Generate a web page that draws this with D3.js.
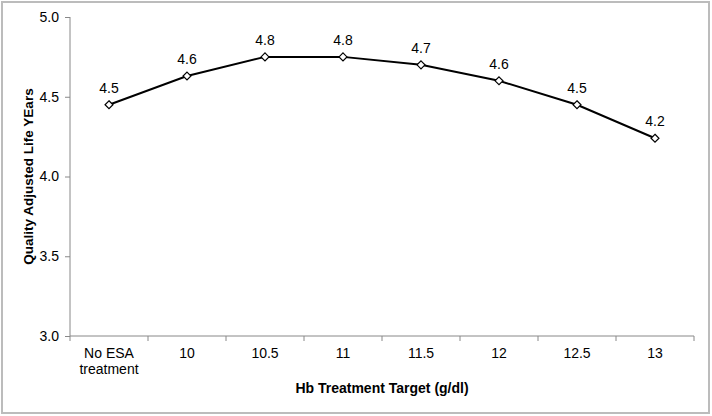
<!DOCTYPE html>
<html><head><meta charset="utf-8">
<script src="https://cdn.jsdelivr.net/npm/d3@7"></script>
<style>body{margin:0;background:#fff;} svg{display:block;font-family:"Liberation Sans",Arial,sans-serif;}</style>
</head><body>
<svg id="chart" width="712" height="416"></svg>
<script>
const categories = ["No ESA treatment","10","10.5","11","11.5","12","12.5","13"];
const qalys = [4.45, 4.63, 4.75, 4.75, 4.70, 4.60, 4.45, 4.24];
const valueLabels = ["4.5","4.6","4.8","4.8","4.7","4.6","4.5","4.2"];
const yTicks = [3.0, 3.5, 4.0, 4.5, 5.0];

const svg = d3.select("#chart");
const pL = 70, pR = 694, pT = 17, pB = 336;
const FS = 14;

svg.append("rect").attr("x",2).attr("y",2).attr("width",707).attr("height",411)
  .attr("fill","#fff").attr("stroke","#bcbcbc").attr("stroke-width",2);

const x = d3.scaleBand().domain(categories).range([pL,pR]);
const y = d3.scaleLinear().domain([3,5]).range([pB,pT]);

// y axis
const yAx = svg.append("g").attr("transform",`translate(${pL},0)`)
  .call(d3.axisLeft(y).tickValues(yTicks).tickFormat(d3.format(".1f")).tickSize(5).tickPadding(6));
yAx.select(".domain").attr("stroke","#888").attr("d",`M0,${pT}V${pB}`);
yAx.selectAll(".tick line").attr("stroke","#888");
yAx.selectAll(".tick text").attr("font-size",FS).attr("fill","#000").attr("font-family","Liberation Sans, Arial, sans-serif");

// x axis
const xAx = svg.append("g").attr("transform",`translate(0,${pB})`)
  .call(d3.axisBottom(x).tickSize(0).tickFormat(""));
xAx.select(".domain").attr("stroke","#888").attr("d",`M${pL},0H${pR}`);
const bounds = categories.map(c=>x(c)).concat([pR]);
xAx.selectAll(".bt").data(bounds).enter().append("line").attr("class","bt")
  .attr("x1",d=>d).attr("x2",d=>d).attr("y1",0).attr("y2",5).attr("stroke","#888");
categories.forEach(c=>{
  const words = c === "No ESA treatment" ? ["No ESA","treatment"] : [c];
  const t = svg.append("text").attr("x",x(c)+x.bandwidth()/2).attr("y",358)
    .attr("text-anchor","middle").attr("font-size",FS).attr("fill","#000");
  words.forEach((w,i)=>t.append("tspan").attr("x",x(c)+x.bandwidth()/2).attr("dy",i?15.5:0).text(w));
});

// titles
svg.append("text").attr("x",(pL+pR)/2).attr("y",393).attr("text-anchor","middle")
  .attr("font-size",FS).attr("font-weight","bold").text("Hb Treatment Target (g/dl)");
svg.append("text").attr("transform",`translate(33,${(pT+pB)/2}) rotate(-90)`)
  .attr("text-anchor","middle").attr("font-size",13.5).attr("font-weight","bold").text("Quality Adjusted Life YEars");

// line
const cx = c => x(c)+x.bandwidth()/2;
svg.append("path").datum(qalys).attr("fill","none").attr("stroke","#000").attr("stroke-width",2)
  .attr("d", d3.line().x((d,i)=>cx(categories[i])).y(d=>y(d)));
svg.selectAll(".mk").data(qalys).enter().append("path").attr("class","mk")
  .attr("transform",(d,i)=>`translate(${cx(categories[i])},${y(d)})`)
  .attr("d", d3.symbol(d3.symbolDiamond2, 40)).attr("fill","#fff").attr("stroke","#000").attr("stroke-width",1.2);
svg.selectAll(".vl").data(qalys).enter().append("text").attr("class","vl")
  .attr("x",(d,i)=>cx(categories[i])).attr("y",d=>y(d)-12).attr("text-anchor","middle")
  .attr("font-size",FS).attr("fill","#000").text((d,i)=>valueLabels[i]);
</script>
</body></html>
